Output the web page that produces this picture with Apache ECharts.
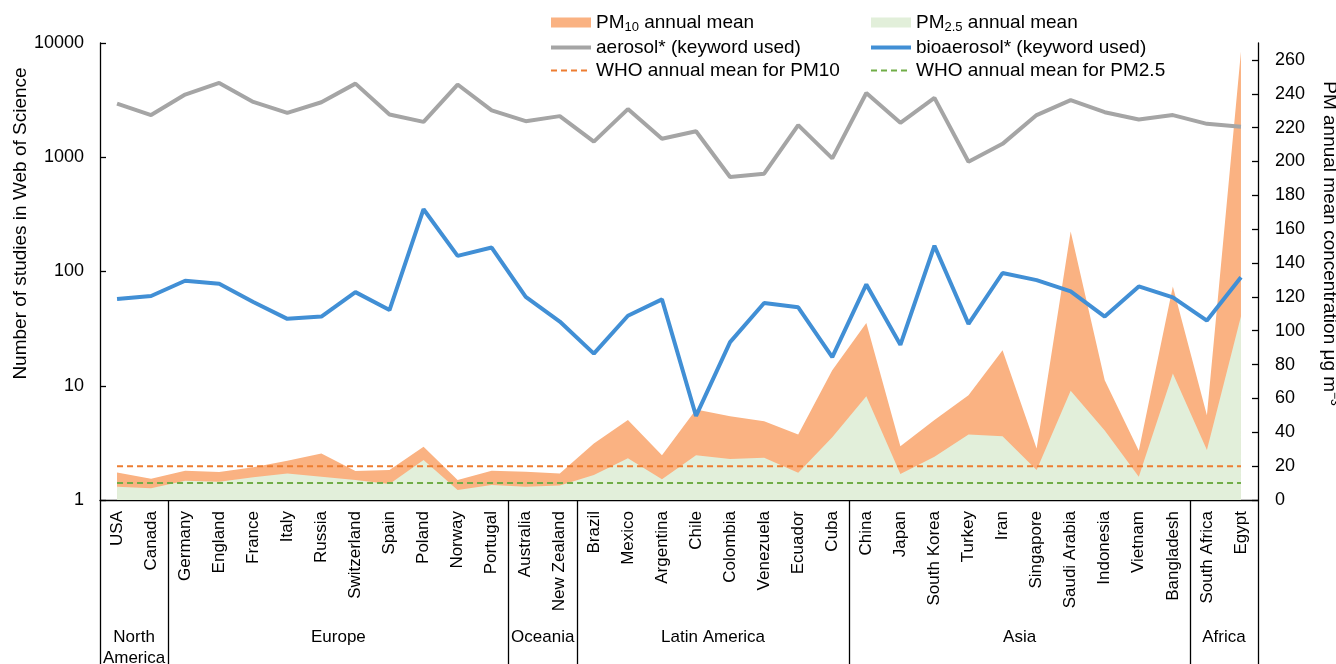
<!DOCTYPE html>
<html>
<head>
<meta charset="utf-8">
<script src="https://cdn.jsdelivr.net/npm/echarts@6/dist/echarts.min.js"></script>
<style>
html,body{margin:0;padding:0;background:#fff;}
#chart{width:1336px;height:664px;}
</style>
</head>
<body>
<div id="chart"></div>
<script>
const categories = ['USA','Canada','Germany','England','France','Italy','Russia','Switzerland','Spain','Poland','Norway','Portugal','Australia','New Zealand','Brazil','Mexico','Argentina','Chile','Colombia','Venezuela','Ecuador','Cuba','China','Japan','South Korea','Turkey','Iran','Singapore','Saudi Arabia','Indonesia','Vietnam','Bangladesh','South Africa','Egypt'];
const groupNames = ['North\nAmerica','Europe','Oceania','Latin America','Asia','Africa'];
const groupSizes = [2,10,2,8,10,2];
const aerosol = [2950,2340,3540,4470,3050,2450,3030,4410,2370,2040,4330,2570,2070,2290,1370,2640,1450,1690,672,718,1910,978,3650,2000,3310,914,1310,2340,3160,2480,2140,2340,1960,1850];
const bioaerosol = [57.5,61,83,78,54,38.5,40.3,66,46,351,137,162,60,36.5,19.1,41,57,5.44,24.1,53,48.6,17.8,77,22.8,168,34.8,97,84,67,40.3,74,59.4,37.2,89];
const pm10 = [16.3,12.6,17.3,16.5,19.3,23.2,27.5,17.1,17.7,31.4,11.8,17.3,16.7,15.7,33.4,47.2,26.5,53.5,49.5,46.6,38.7,76.7,104.6,31.8,47.2,61.9,88.4,30.5,158.6,70.8,29.1,126.2,50.1,265];
const pm25 = [7.9,6.9,11.4,10.8,13.4,15.7,13.8,11.8,9.5,23.6,5.9,8.8,7.9,8.5,14.7,24.6,12.2,26.5,24.2,25,16.1,37,61.3,15.3,25.5,38.7,37.7,17.7,64.5,41,13.8,74.7,29.5,108.5];
const whoPM10 = 20;
const whoPM25 = 10;
const leftTicks = [1,10,100,1000,10000];
const rightTicks = [0,20,40,60,80,100,120,140,160,180,200,220,240,260];

// group boundaries and centres (in category units)
const groupBounds = [0];
const groupCenters = [];
groupSizes.forEach(function(n){
  const s = groupBounds[groupBounds.length-1];
  groupCenters.push(s + n/2);
  groupBounds.push(s + n);
});

const FONT = 'Liberation Sans, Arial, sans-serif';
const chart = echarts.init(document.getElementById('chart'), null, {renderer:'canvas'});

const legendText = {
  fontFamily: FONT, fontSize: 19, color: '#000',
  rich: {
    t: {fontFamily: FONT, fontSize: 19, color: '#000'},
    s: {fontFamily: FONT, fontSize: 13, color: '#000', padding: [10,0,0,0]}
  }
};
function legendFmt(name){
  if (name === 'PM10 annual mean') return '{t|PM}{s|10}{t| annual mean}';
  if (name === 'PM2.5 annual mean') return '{t|PM}{s|2.5}{t| annual mean}';
  return '{t|' + name + '}';
}

const option = {
  animation: false,
  backgroundColor: '#fff',
  textStyle: {fontFamily: FONT},
  grid: {left: 100, right: 78, top: 43, bottom: 164, containLabel: false, outerBoundsMode: 'none'},
  legend: [
    {
      orient: 'vertical', left: 544, top: 8, itemWidth: 40, itemHeight: 10, itemGap: 4, itemTextGap: 5,
      textStyle: legendText, formatter: legendFmt, selectedMode: false,
      data: [
        {name: 'PM10 annual mean', icon: 'rect', itemStyle: {color: '#FAB282'}},
        {name: 'aerosol* (keyword used)', lineStyle: {width: 4}, itemStyle: {opacity: 0}},
        {name: 'WHO annual mean for PM10', lineStyle: {width: 2}, itemStyle: {opacity: 0}}
      ]
    },
    {
      orient: 'vertical', left: 864, top: 8, itemWidth: 40, itemHeight: 10, itemGap: 4, itemTextGap: 5,
      textStyle: legendText, formatter: legendFmt, selectedMode: false,
      data: [
        {name: 'PM2.5 annual mean', icon: 'rect', itemStyle: {color: '#E2EFDA'}},
        {name: 'bioaerosol* (keyword used)', lineStyle: {width: 4}, itemStyle: {opacity: 0}},
        {name: 'WHO annual mean for PM2.5', lineStyle: {width: 2}, itemStyle: {opacity: 0}}
      ]
    }
  ],
  xAxis: [
    {
      type: 'category', data: categories, gridIndex: 0, position: 'bottom',
      axisLine: {show: true, lineStyle: {color: '#000', width: 1.3}},
      axisTick: {show: false},
      axisLabel: {interval: 0, rotate: 90, fontSize: 17, margin: 11, color: '#000', fontFamily: FONT}
    },
    {
      type: 'value', min: 0, max: categories.length, gridIndex: 0, position: 'bottom',
      axisLine: {show: false},
      splitLine: {show: false},
      axisTick: {show: true, inside: false, length: 164, customValues: groupBounds, lineStyle: {color: '#000', width: 1.3}},
      axisLabel: {
        show: true, customValues: groupCenters, margin: 127, fontSize: 17, lineHeight: 21, color: '#000', fontFamily: FONT,
        formatter: function(v){ const i = groupCenters.indexOf(v); return i >= 0 ? groupNames[i] : ''; }
      }
    }
  ],
  yAxis: [
    {
      type: 'log', logBase: 10, min: 1, max: 10000, position: 'left',
      axisLine: {show: true, lineStyle: {color: '#000', width: 1.3}},
      axisTick: {show: true, inside: true, length: 6, customValues: leftTicks, lineStyle: {color: '#000', width: 1.3}},
      minorTick: {show: false},
      splitLine: {show: false},
      axisLabel: {customValues: leftTicks, fontSize: 18, margin: 16, color: '#000', fontFamily: FONT, formatter: function(v){ return String(v); }},
      name: 'Number of studies in Web of Science',
      nameLocation: 'middle', nameGap: 70, nameMoveOverlap: false,
      nameTextStyle: {fontSize: 19, color: '#000', fontFamily: FONT, padding: [0,0,0,96]}
    },
    {
      type: 'value', min: 0, max: 270, interval: 20, position: 'right',
      axisLine: {show: true, lineStyle: {color: '#000', width: 1.3}},
      axisTick: {show: true, inside: true, length: 6, customValues: rightTicks, lineStyle: {color: '#000', width: 1.3}},
      splitLine: {show: false},
      axisLabel: {customValues: rightTicks, fontSize: 18, margin: 17, color: '#000', fontFamily: FONT},
      name: '{a|PM annual mean concentration μg m}{s|−3}',
      nameLocation: 'middle', nameGap: 60, nameRotate: -90, nameMoveOverlap: false,
      nameTextStyle: {
        fontSize: 19, color: '#000', fontFamily: FONT, padding: [0,56,0,0],
        rich: {
          a: {fontSize: 19, color: '#000', fontFamily: FONT},
          s: {fontSize: 12, color: '#000', fontFamily: FONT, padding: [0,0,10,0]}
        }
      }
    }
  ],
  series: [
    {
      name: 'PM10 annual mean', type: 'line', xAxisIndex: 0, yAxisIndex: 1, data: pm10,
      symbol: 'none', lineStyle: {width: 0}, itemStyle: {color: '#FAB282'},
      areaStyle: {color: '#FAB282', opacity: 1}, z: 1
    },
    {
      name: 'PM2.5 annual mean', type: 'line', xAxisIndex: 0, yAxisIndex: 1, data: pm25,
      symbol: 'none', lineStyle: {width: 0}, itemStyle: {color: '#E2EFDA'},
      areaStyle: {color: '#E2EFDA', opacity: 1}, z: 2
    },
    {
      name: 'WHO annual mean for PM10', type: 'line', xAxisIndex: 0, yAxisIndex: 1,
      data: categories.map(function(){ return whoPM10; }),
      symbol: 'none', itemStyle: {color: '#ED7D31'},
      lineStyle: {color: '#ED7D31', width: 2, type: [6,4]}, z: 3
    },
    {
      name: 'WHO annual mean for PM2.5', type: 'line', xAxisIndex: 0, yAxisIndex: 1,
      data: categories.map(function(){ return whoPM25; }),
      symbol: 'none', itemStyle: {color: '#70AD47'},
      lineStyle: {color: '#70AD47', width: 2, type: [6,4]}, z: 3
    },
    {
      name: 'aerosol* (keyword used)', type: 'line', xAxisIndex: 0, yAxisIndex: 0, data: aerosol,
      symbol: 'none', itemStyle: {color: '#A5A5A5'},
      lineStyle: {color: '#A5A5A5', width: 4}, z: 4
    },
    {
      name: 'bioaerosol* (keyword used)', type: 'line', xAxisIndex: 0, yAxisIndex: 0, data: bioaerosol,
      symbol: 'none', itemStyle: {color: '#418FD5'},
      lineStyle: {color: '#418FD5', width: 4}, z: 5
    }
  ]
};
chart.setOption(option);
</script>
</body>
</html>
